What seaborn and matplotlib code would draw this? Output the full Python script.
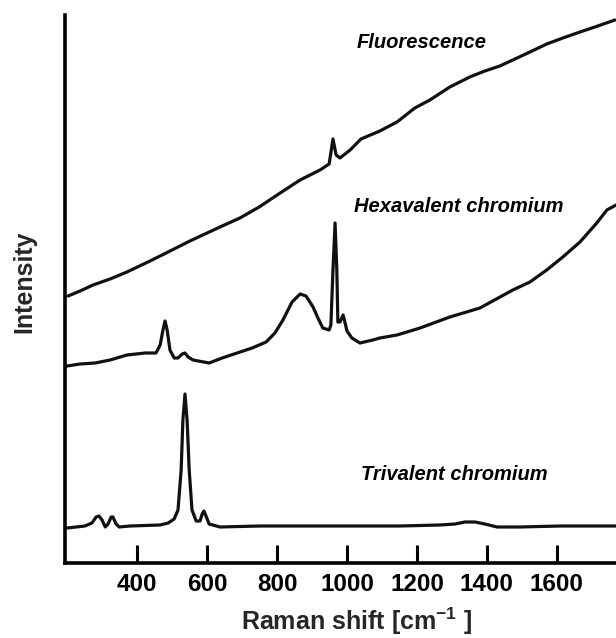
import matplotlib
matplotlib.use("Agg")
import matplotlib.pyplot as plt
import seaborn as sns
import pandas as pd

# Raman shift (cm^-1) and intensity (a.u.) for the three spectra
fluo_shift = [203, 237, 274, 323, 371, 437, 483, 551, 637, 694, 749, 809, 866, 923,
              949, 960, 969, 980, 1009, 1040, 1094, 1143, 1194, 1237, 1294, 1351, 1394,
              1437, 1474, 1523, 1571, 1617, 1666, 1717, 1766]
fluo_int = [267, 272, 278, 284, 291, 302, 310, 322, 336, 345, 356, 370, 383, 393,
            399, 424, 408, 405, 413, 424, 432, 441, 455, 463, 476, 486, 492,
            497, 503, 511, 519, 525, 531, 537, 543]

hexa_shift = [200, 237, 280, 323, 371, 423, 454, 466, 474, 480, 486, 494, 506, 517,
              529, 537, 546, 560, 606, 643, 686, 729, 769, 794, 817, 843, 866, 883,
              903, 917, 931, 949, 954, 960, 966, 971, 974, 980, 989, 994, 1000, 1014,
              1037, 1074, 1094, 1143, 1209, 1294, 1380, 1474, 1523, 1571, 1617, 1666,
              1714, 1743, 1769]
hexa_int = [197, 199, 200, 203, 208, 210, 210, 218, 233, 242, 233, 213, 205, 205,
            209, 210, 206, 203, 200, 205, 210, 215, 221, 230, 243, 261, 269, 267,
            256, 245, 235, 233, 238, 293, 340, 293, 241, 241, 248, 241, 232, 225,
            220, 223, 225, 228, 235, 246, 255, 273, 281, 293, 306, 321,
            340, 353, 358]

tri_shift = [200, 251, 271, 283, 291, 300, 309, 317, 326, 331, 340, 349, 380, 466,
             489, 506, 517, 526, 531, 537, 543, 549, 557, 569, 580, 586, 591, 597,
             606, 637, 751, 866, 1009, 1151, 1266, 1309, 1337, 1366, 1394, 1429,
             1494, 1609, 1769]
tri_int = [35, 37, 40, 46, 47, 43, 36, 39, 46, 46, 39, 36, 37, 38,
           40, 44, 53, 93, 143, 169, 143, 93, 53, 42, 42, 49, 52, 47,
           39, 36, 37, 37, 37, 37, 38, 39, 41, 41, 39, 36,
           36, 37, 37]

x_ticks = [400, 600, 800, 1000, 1200, 1400, 1600]

sns.set_style("white")
plt.rcParams["font.family"] = ["Liberation Sans", "DejaVu Sans"]
plt.rcParams["mathtext.fontset"] = "custom"
plt.rcParams["mathtext.rm"] = "Liberation Sans:bold"
plt.rcParams["mathtext.bf"] = "Liberation Sans:bold"
plt.rcParams["mathtext.it"] = "Liberation Sans:bold"

fig = plt.figure(figsize=(6.16, 6.38), dpi=100)
ax = fig.add_axes([65 / 616, 75 / 638, 551 / 616, 563 / 638])

line_color = "#111111"
for xs, ys in [(fluo_shift, fluo_int), (hexa_shift, hexa_int), (tri_shift, tri_int)]:
    df = pd.DataFrame({"shift": xs, "intensity": ys})
    sns.lineplot(data=df, x="shift", y="intensity", color=line_color,
                 linewidth=2.3, ax=ax, estimator=None)

ax.set_xlim(194, 1769)
ax.set_ylim(0, 563)

for side in ["top", "right"]:
    ax.spines[side].set_visible(False)
ax.spines["left"].set_linewidth(2.6)
ax.spines["bottom"].set_linewidth(2.6)
ax.spines["left"].set_bounds(0, 548)
ax.spines["left"].set_color("black")
ax.spines["bottom"].set_color("black")

ax.set_xticks(x_ticks)
ax.set_xticklabels([str(t) for t in x_ticks])
ax.set_yticks([])
ax.tick_params(axis="x", bottom=True, direction="in", length=13, width=2.2, pad=7,
               labelsize=17.5, colors="black")
for lab in ax.get_xticklabels():
    lab.set_fontweight("bold")

ax.set_xlabel(r"Raman shift [cm$^{-1}$ ]", fontsize=18, fontweight="bold")
ax.xaxis.set_label_coords(0.53, -0.075)
ax.set_ylabel("Intensity", fontsize=18, fontweight="bold")
ax.yaxis.set_label_coords(-0.052, 0.5)

txt = dict(fontsize=14.5, fontweight="bold", fontstyle="italic", color="black",
           transform=ax.transAxes, va="center", ha="left")
ax.text((357 - 65) / 551, (563 - 42) / 563, "Fluorescence", **txt)
ax.text((354 - 65) / 551, (563 - 207) / 563, "Hexavalent chromium", **txt)
ax.text((361 - 65) / 551, (563 - 475) / 563, "Trivalent chromium", **txt)

fig.savefig("out.png", dpi=100)
